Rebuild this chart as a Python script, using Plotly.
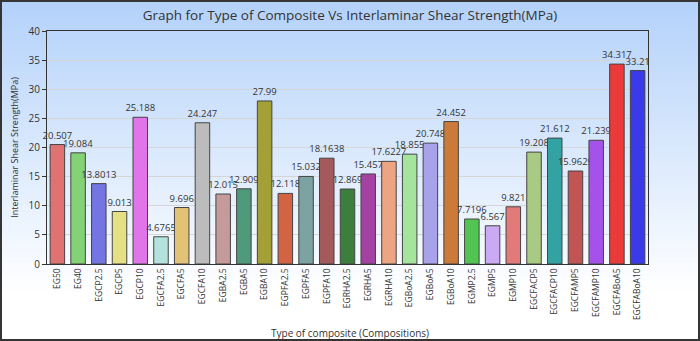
import plotly.graph_objects as go

categories = ["EG50", "EG40", "EGCP2.5", "EGCP5", "EGCP10", "EGCFA2.5", "EGCFA5", "EGCFA10",
              "EGBA2.5", "EGBA5", "EGBA10", "EGPFA2.5", "EGPFA5", "EGPFA10", "EGRHA2.5",
              "EGRHA5", "EGRHA10", "EGBoA2.5", "EGBoA5", "EGBoA10", "EGMP2.5", "EGMP5",
              "EGMP10", "EGCFACP5", "EGCFACP10", "EGCFAMP5", "EGCFAMP10", "EGCFABoA5", "EGCFABoA10"]
values = [20.507, 19.084, 13.8013, 9.013, 25.188, 4.6765, 9.696, 24.247,
          12.015, 12.909, 27.99, 12.118, 15.032, 18.1638, 12.869,
          15.457, 17.6227, 18.855, 20.748, 24.452, 7.7196, 6.567,
          9.821, 19.208, 21.612, 15.9629, 21.239, 34.317, 33.21]
value_labels = ["20.507", "19.084", "13.8013", "9.013", "25.188", "4.6765", "9.696", "24.247",
                "12.015", "12.909", "27.99", "12.118", "15.032", "18.1638", "12.869",
                "15.457", "17.6227", "18.855", "20.748", "24.452", "7.7196", "6.567",
                "9.821", "19.208", "21.612", "15.9629", "21.239", "34.317", "33.21"]
colors = ["#e07272", "#84d276", "#7474e2", "#e6e084", "#e274ea", "#b4e2dc", "#e2c274", "#bcbcbc",
          "#c49a9a", "#4f9a7a", "#a2a036", "#d26444", "#7ca2a2", "#a45a5a", "#3c7e3c",
          "#a442a4", "#eca482", "#a4e49c", "#a8a2ea", "#cc7a3a", "#52c452", "#caaaf2",
          "#e27a7a", "#a8ca82", "#32a2a2", "#c25454", "#a452ea", "#ea3a3a", "#3a3aea"]

W, H = 700, 341
L, R, T, B = 47, 52, 31, 77
pw, ph = W - L - R, H - T - B

def px_to_paper_x(px):
    return (px - L) / pw

def py_to_paper_y(py):
    return (H - B - py) / ph

# background gradient bands (decoration), each band reaches the bottom so no seams
shapes = []
top_c = (180, 210, 250)
bot_c = (255, 255, 255)
y0, y1 = 2, 339
nb = 70
for i in range(nb):
    a = y0 + (y1 - y0) * i / nb
    t = min(1.0, ((a - y0) / (290 - y0)))
    c = tuple(int(round(top_c[k] + (bot_c[k] - top_c[k]) * t)) for k in range(3))
    shapes.append(dict(type="rect", xref="paper", yref="paper",
                       x0=px_to_paper_x(2), x1=px_to_paper_x(W - 2),
                       y0=py_to_paper_y(y1), y1=py_to_paper_y(a),
                       fillcolor="rgb(%d,%d,%d)" % c, line=dict(width=0), layer="below"))

fig = go.Figure(go.Bar(
    x=categories, y=values, text=value_labels, textposition="outside",
    textfont=dict(size=9.5, color="#333333"),
    constraintext="none",
    marker=dict(color=colors, line=dict(color="#444444", width=1)),
    cliponaxis=False,
))

font_family = "Open Sans, Noto Sans, sans-serif"
fig.update_layout(
    width=W, height=H,
    margin=dict(l=L, r=R, t=T, b=B, autoexpand=False),
    paper_bgcolor="#353535",
    plot_bgcolor="rgba(0,0,0,0)",
    font=dict(family=font_family, size=9, color="#333333"),
    bargap=0.3,
    showlegend=False,
    shapes=shapes,
    title=dict(text="Graph for Type of Composite Vs Interlaminar Shear Strength(MPa)",
               x=0.5, xref="container", y=1 - 15 / H, yref="container", yanchor="middle",
               xanchor="center", font=dict(size=13.5, color="#333333", family=font_family)),
    annotations=[dict(text="Type of composite (Compositions)", xref="paper", yref="paper",
                      x=px_to_paper_x(350), y=py_to_paper_y(333), xanchor="center",
                      yanchor="middle", showarrow=False,
                      font=dict(size=10, color="#333333", family=font_family))],
)
fig.update_yaxes(range=[0, 40], dtick=5, showgrid=True, gridcolor="#d6d6d6", gridwidth=1,
                 showline=True, linecolor="#333333", linewidth=1, mirror=True,
                 ticks="outside", ticklen=4, tickcolor="#333333", automargin=False,
                 tickfont=dict(size=10, color="#333333"), zeroline=False,
                 title=dict(text="Interlaminar Shear Strength(MPa)", standoff=8,
                            font=dict(size=9, color="#333333")))
fig.update_xaxes(showline=True, linecolor="#333333", linewidth=1, mirror=True, automargin=False,
                 tickangle=-90, tickfont=dict(size=8.5, color="#333333"), ticks="")

fig.write_html("out.html", config={"displayModeBar": False},
               post_script="document.body.style.margin='0';document.body.style.overflow='hidden';")
